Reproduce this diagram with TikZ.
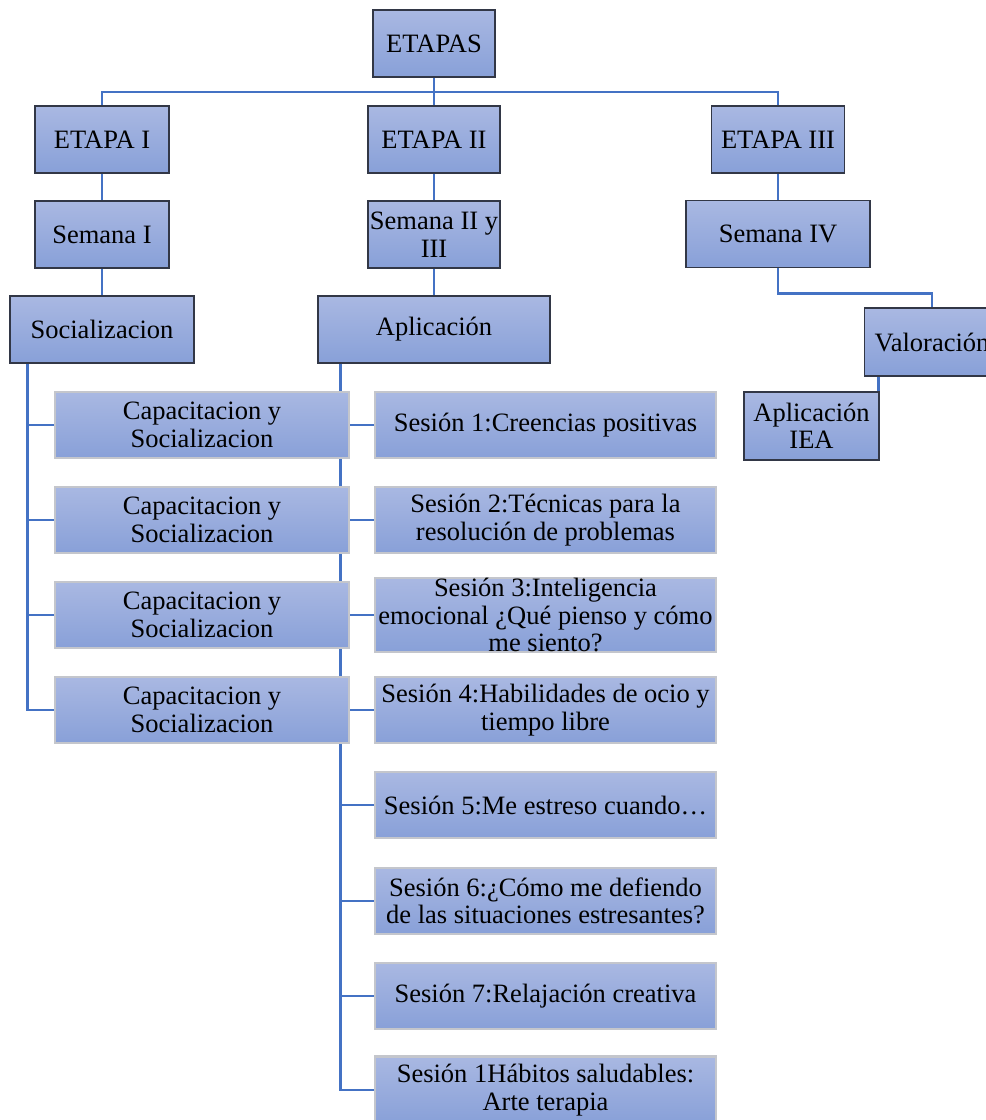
\documentclass[tikz,border=0pt]{standalone}
\usepackage{fontspec}
\setmainfont{Liberation Serif}
\definecolor{boxtop}{RGB}{169,184,226}
\definecolor{boxbot}{RGB}{136,160,216}
\definecolor{linkc}{RGB}{68,114,196}
\definecolor{darkedge}{RGB}{50,55,70}
\definecolor{lightedge}{RGB}{196,198,204}
\begin{document}
\begin{tikzpicture}[x=1pt,y=1pt,
  every node/.style={font=\fontsize{26.5}{27.5}\selectfont, align=center, inner sep=0pt},
  topbox/.style={rectangle, top color=boxtop, bottom color=boxbot, draw=darkedge, line width=1.8pt, minimum height=67pt},
  lowbox/.style={rectangle, top color=boxtop, bottom color=boxbot, draw=lightedge, line width=2.2pt, minimum height=66pt},
  link/.style={draw=linkc, line width=2.8pt}]
\clip (0,0) rectangle (986,-1120);
\fill[white] (0,0) rectangle (986,-1120);
% upper boxes
\node[topbox, minimum width=122pt] (etapas) at (434,-43.5) {ETAPAS};
\node[topbox, minimum width=134pt] (e1) at (102,-139.5) {ETAPA I};
\node[topbox, minimum width=132pt] (e2) at (434,-139.5) {ETAPA II};
\node[topbox, minimum width=133pt] (e3) at (778,-139.5) {ETAPA III};
\node[topbox, minimum width=134pt] (s1) at (102,-234.5) {Semana I};
\node[topbox, minimum width=132pt] (s2) at (434,-234.5) {Semana II y\\III};
\node[topbox, minimum width=184pt] (s4) at (778,-234) {Semana IV};
\node[topbox, minimum width=184pt] (soc) at (102,-329.5) {Socializacion};
\node[topbox, minimum width=232pt] (apl) at (434,-329.5) {Aplicación};
\node[topbox, minimum width=135pt, minimum height=68pt] (val) at (932,-342) {Valoración};
\node[topbox, minimum width=135pt, minimum height=68pt] (iea) at (811.5,-426) {Aplicación\\IEA};
% connectors
\draw[link] (etapas.south) -- ++(0,-14) coordinate (bus);
\draw[link] (e1.north) |- (bus) -| (e3.north);
\draw[link] (bus) -- (e2.north);
\draw[link] (e1.south) -- (s1.north);
\draw[link] (e2.south) -- (s2.north);
\draw[link] (e3.south) -- (s4.north);
\draw[link] (s1.south) -- (soc.north);
\draw[link] (s2.south) -- (apl.north);
\draw[link] (s4.south) -- ++(0,-25) -| (val.north);
\draw[link] ([xshift=-1.5pt]val.south -| iea.north east) -- ([xshift=-1.5pt]iea.north east);
\coordinate (lv) at ([xshift=18pt]soc.south west);
\coordinate (rv) at ([xshift=23pt]apl.south west);
\path
  (202,-425) coordinate (pc1) (202,-520) coordinate (pc2)
  (202,-615) coordinate (pc3) (202,-710) coordinate (pc4)
  (545.5,-425) coordinate (ps1) (545.5,-520) coordinate (ps2)
  (545.5,-615) coordinate (ps3) (545.5,-710) coordinate (ps4)
  (545.5,-805) coordinate (ps5) (545.5,-901) coordinate (ps6)
  (545.5,-996) coordinate (ps7) (545.5,-1090) coordinate (ps8);
\foreach \i in {1,...,4} \draw[link] (lv) |- (pc\i);
\foreach \i in {1,...,8} \draw[link] (rv) |- (ps\i);
% lower boxes
\foreach \i in {1,...,4}
  \node[lowbox, minimum width=294pt] (c\i) at (pc\i) {Capacitacion y\\Socializacion};
\node[lowbox, minimum width=341pt] (q1) at (ps1) {Sesión 1:Creencias positivas};
\node[lowbox, minimum width=341pt] (q2) at (ps2) {Sesión 2:Técnicas para la\\resolución de problemas};
\node[lowbox, minimum width=341pt] (q3) at (ps3) {Sesión 3:Inteligencia\\emocional ¿Qué pienso y cómo\\me siento?};
\node[lowbox, minimum width=341pt] (q4) at (ps4) {Sesión 4:Habilidades de ocio y\\tiempo libre};
\node[lowbox, minimum width=341pt] (q5) at (ps5) {Sesión 5:Me estreso cuando…};
\node[lowbox, minimum width=341pt] (q6) at (ps6) {Sesión 6:¿Cómo me defiendo\\de las situaciones estresantes?};
\node[lowbox, minimum width=341pt] (q7) at (ps7) {Sesión 7:Relajación creativa};
\node[lowbox, minimum width=341pt, minimum height=67pt] (q8) at (ps8) {Sesión 1Hábitos saludables:\\Arte terapia};
\end{tikzpicture}
\end{document}
